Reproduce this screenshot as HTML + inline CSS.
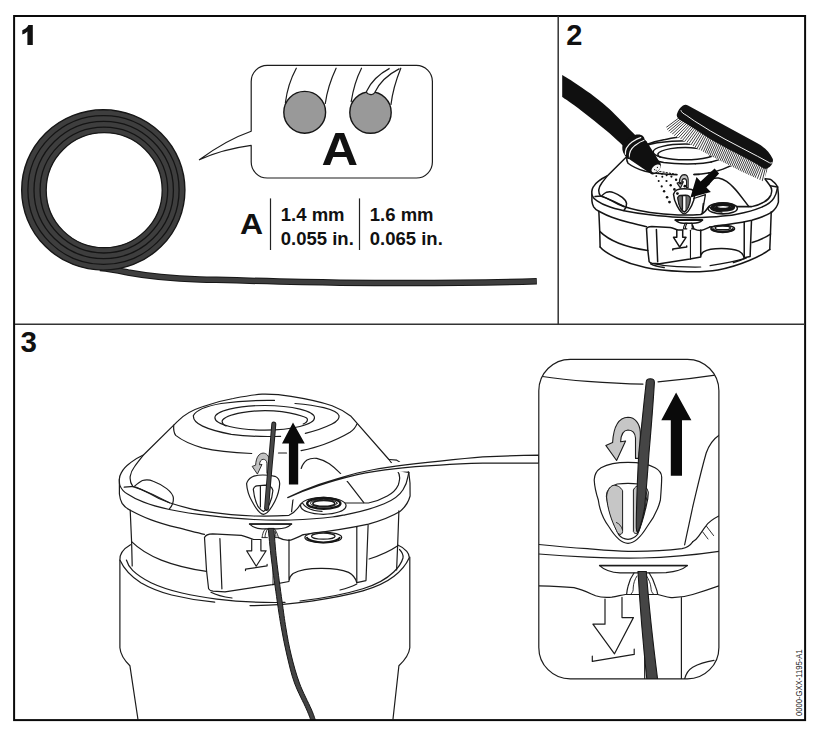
<!DOCTYPE html>
<html>
<head>
<meta charset="utf-8">
<title>Diagram</title>
<style>
html,body{margin:0;padding:0;background:#fff;}
body{width:828px;height:741px;overflow:hidden;font-family:"Liberation Sans",sans-serif;}
svg{display:block;position:absolute;left:0;top:0;}
text{font-family:"Liberation Sans",sans-serif;}
.b{font-weight:bold;fill:#111;}
.l{fill:none;stroke:#1c1c1c;stroke-width:1.2;stroke-linecap:round;stroke-linejoin:round;}
.l2{fill:none;stroke:#151515;stroke-width:1.5;stroke-linecap:round;stroke-linejoin:round;}
.w{fill:#fff;stroke:#1c1c1c;stroke-width:1.2;stroke-linejoin:round;}
.w2{fill:#fff;stroke:#151515;stroke-width:1.5;stroke-linejoin:round;}
.k{fill:#111;stroke:none;}
.s2 .l,.s2 .w{stroke-width:2.34;stroke:#151515;}
</style>
</head>
<body>
<svg width="828" height="741" viewBox="0 0 828 741">
<rect x="0" y="0" width="828" height="741" fill="#fff"/>

<!-- ===== PANEL 1 ===== -->
<g id="p1">
  <!-- tail -->
  <path d="M100,267.9 C112,268.9 120,270.8 128,272.5 C150,276.6 175,278.6 200,279.4 C240,280.5 290,282 340,282.7 C400,283.4 470,283.3 536.8,281.3" fill="none" stroke="#161616" stroke-width="6.5" stroke-linecap="butt"/>
  <path d="M100,267.9 C112,268.9 120,270.8 128,272.5 C150,276.6 175,278.6 200,279.4 C240,280.5 290,282 340,282.7 C400,283.4 470,283.3 536.2,281.3" fill="none" stroke="#3e3e3e" stroke-width="4.5" stroke-linecap="butt"/>
  <!-- coil -->
  <ellipse cx="103.3" cy="189.9" rx="81.6" ry="80.2" fill="#3e3e3e" stroke="#161616" stroke-width="1.4"/>
  <ellipse cx="103.5" cy="190" rx="75.6" ry="74.4" fill="none" stroke="#141414" stroke-width="1.3"/>
  <ellipse cx="103.7" cy="190.05" rx="69.7" ry="68.6" fill="none" stroke="#141414" stroke-width="1.3"/>
  <ellipse cx="103.9" cy="190.1" rx="63.8" ry="62.9" fill="none" stroke="#141414" stroke-width="1.3"/>
  <ellipse cx="104.2" cy="190.2" rx="58" ry="57.5" fill="#fff" stroke="#161616" stroke-width="1.3"/>

  <!-- bubble -->
  <path d="M267.2,65.4 H416.4 A16,16 0 0 1 432.4,81.4 V162 A16,16 0 0 1 416.4,178 H267.2 A16,16 0 0 1 251.2,162 V145.4 C232,148 214,153 199.4,159.8 C214,149 232,138 251.2,131.3 V81.4 A16,16 0 0 1 267.2,65.4 Z" class="w" style="stroke-width:1.2"/>
  <!-- strands in bubble -->
  <path d="M285.4,102.6 C287,90 291,78 296.3,68.2" class="l"/>
  <path d="M325.3,103.5 C327,91 331,79 336.1,68.2" class="l"/>
  <path d="M351.2,101.7 C353,90 356.5,78 361.5,68.2" class="l"/>
  <path d="M391,104.4 C392.5,92 396,80 400.8,68.2" class="l"/>
  <circle cx="304.7" cy="112.3" r="20.9" fill="#999" stroke="#161616" stroke-width="1.4"/>
  <circle cx="370.5" cy="112.5" r="20.7" fill="#999" stroke="#161616" stroke-width="1.4"/>
  <path d="M389.6,68.4 C379,74 371,82 366.6,91.2 C366,94.5 373,96 374.6,92.8 C379,83 388,74.5 399.5,68.6" class="w"/>
  <text transform="translate(339.9,165) scale(1.09,1)" x="0" y="0" text-anchor="middle" class="b" font-size="46.5">A</text>

  <!-- table -->
  <text transform="translate(251.5,233.9) scale(1.08,1)" x="0" y="0" text-anchor="middle" class="b" font-size="29.6">A</text>
  <line x1="270.5" y1="198.4" x2="270.5" y2="250" stroke="#222" stroke-width="1.2"/>
  <line x1="359.5" y1="198.4" x2="359.5" y2="250" stroke="#222" stroke-width="1.2"/>
  <text x="280.8" y="220.8" class="b" font-size="18.5">1.4 mm</text>
  <text x="280.8" y="244.9" class="b" font-size="18.5">0.055 in.</text>
  <text x="369.8" y="220.8" class="b" font-size="18.5">1.6 mm</text>
  <text x="369.8" y="244.9" class="b" font-size="18.5">0.065 in.</text>
</g>

<!-- ===== PANEL 2 ===== -->
<g id="p2">
  <!--HEAD2-START-->
  <!-- body bottom (p2 only) -->
  <path d="M600.1,247 C606,254 625,263 645.4,267.6 C665,271.8 700,273 717.9,269.9 C740,265.8 762,255.6 769.8,249.4" class="l2"/>
  <path d="M653.6,263.6 C662,265.6 670,266.4 677.1,266.6 C686,267 694,267.2 700.7,267 M710.1,265.6 C722,263.8 735,261.4 746.2,258.2" class="l2" style="stroke-width:1.2"/>
  <g transform="translate(515.3,-116.1) scale(0.6416)" class="s2">
  <path d="M130.2,510.2 L131.6,541.6 L132.2,566" class="l"/>
  <path d="M398.9,510.8 L397.8,541.6 L396.6,570" class="l"/>
  <path d="M131.6,541.6 C140,550 150,555.5 161.3,560.1 C175,565.5 190,569 206.5,571.4" class="l"/>
  <path d="M369.1,559 C380,555.5 390,551 397.8,545.7" class="l"/>
  <path d="M119.4,479.1 V494 C119.8,498 120.8,501 122.1,503.4 C124,506.5 127,508.6 130.2,510.2 C137,513.8 143,516.8 150.5,519.6 C159,522.8 168,525.4 177.5,527.7 C187,530 196,532.4 204.5,534.4" class="l"/>
  <path d="M408.8,472.3 L410,483 L410.1,496 C408.4,502.5 404.6,507.6 399.9,511.6 C391,517 380,521 368.5,524.2 C345,529.2 322,532.4 303.4,534.6" class="l"/>
  <path d="M204.5,537.5 C205.5,535 208.5,533.9 212.7,533.8 L241.4,535.4 C246,536.5 250,538.4 253.7,539.5 L260.9,539.5" class="l"/>
  <path d="M204.5,537.5 L206.5,570.3 L208.6,588.8 C209.4,590.4 211,591 213,591.2 L225,591.9 L272.2,584.7 L289,581.5" class="l"/>
  <path d="M219.9,538.5 L221.9,588.8" class="l"/>
  <path d="M211,592.2 C215,594.4 222,596.6 232,598" class="l"/>
  <path d="M251.7,539.8 V550.8 H246.6 L256.2,566.2 L266.1,550.8 H260.9 V539.8" class="l"/>
  <path d="M245.5,570.6 V569.2 L267.1,565.8 V564.4" class="l"/>
  <path d="M278.4,537.6 C281,539 285,540.4 289.3,540.3 C294,539.4 298.6,536.8 303.4,534.6" class="l"/>
  <path d="M289,539.5 V580.6 C289.5,577.5 291,575 293.1,573.4 C300,569.5 310,568.2 321.9,568.3 C332,568.3 342,569.6 348.6,572.4 C352.5,574.5 355.5,578 356.8,582.7 L366,580.6 L368.1,525.2" class="l"/>
  <path d="M356.8,527.2 V582.7" class="l"/>
  <path d="M273,540 V585" class="l" style="stroke-width:1.75"/>
  <path d="M356.8,584 C352,586.5 346,588.5 340,590" class="l"/>
  <ellipse cx="323.3" cy="537.4" rx="18.4" ry="5.3" class="w"/>
  <path d="M306.6,537.2 C308,540.6 316,542.4 323.3,542.4 C331,542.4 338.6,540.6 340,537.2" fill="none" stroke="#151515" stroke-width="3.90"/>
  <ellipse cx="323.3" cy="536.2" rx="11.8" ry="3" class="l"/>
  <path d="M143.7,454.8 C138,457.5 133.5,460.2 130.2,462.9 C126,466 123,469.2 121.5,472.4 C120,475 119.4,477 119.4,479.1 C119.2,482 119.4,484 120.1,485.9 C121.5,489.5 124,492 127.5,494 C132,497 137,499.8 143.7,502.1 C151,505 160,507.4 169.4,509.5 C182,512.2 196,514.2 210,515.6 C226,517.4 240,518.8 253.7,519.5 C266,520.2 278,520.4 291,520 C306,519.4 319,518.6 332.1,517 C338,516.4 342,515.4 345,514.8 C360,512 373,508.4 384.2,503.8 C393,500 399.5,495.5 403,489.7 C405.6,485.6 407.2,481.4 407.8,477.1 C408.2,475 408.6,473.6 408.8,472.3 C407,468.6 404.8,466 402.5,464.5 C400.6,462.6 398.6,461 396.8,460.2 L389.5,459.5 Z" class="w"/>
  <path d="M249.6,524.1 H291.5 C288,527.6 283,528.8 277,528.8 H262 C256.5,528.6 252.5,527 249.6,524.1 Z" class="w" style="stroke-width:2.34"/>
  <path d="M249.6,524 H291.5" class="l" style="stroke-width:3.12"/>
  <path d="M265.9,528.6 C264.4,530 263.4,531.6 263,533.2 C262.5,534.8 262.2,536.2 262.1,537.6 M274.2,528.6 C275.2,529.6 275.8,530.6 276.3,531.8 C277.4,533.8 278,535.6 278.4,537.6 M262.1,537.6 H267.4 M274.6,537.6 H278.4 M267.6,528.8 C266,531.4 265,534.6 265,537.4 M275.2,531.4 C275.8,533.4 276,535.4 275.9,537.4" class="l" style="stroke-width:1.75"/>
  <path d="M132.9,486.6 C130.6,483.4 129.8,480 130.2,476.4 C130.8,472.8 132.2,469.8 134.3,467 C137,463.2 140.2,459.2 143.7,454.8 L177.8,421.1 C184,414.6 192,410 202.4,406.7 C212,403.2 222,400.4 233.2,398.5 C243,396.6 252,394.8 262.1,394.2 C272,394 282,394.8 291,396.4 C305,398.6 319,401.4 332.1,405.7 C339,408.4 345,411.6 350.6,415.9 L388.9,459.5 L397.2,470.4 C399,473 399.9,476 399.6,479 C399.2,482 398.8,483.6 398.3,485 C396,490 392,493.5 387.3,496 C381,499.5 375,501.8 368.5,503 L346,503 L300.6,504 C298,508.5 295,512.4 289,515.3 C278,516.1 266,516.3 253.7,516 C238,515.4 224,514.2 210,512.2 C203,511.2 197,510.2 191,508.8 C183,507 176,505 169.4,502.8 C162,500.2 156,497.4 150.5,494 C144,490.6 138,488 132.9,486.6 Z" class="w"/>
  <path d="M397.2,470.4 L408.6,472.3" class="l"/>
  <path d="M124.2,487.2 L134.3,486.4 C137,484 139.6,481.8 142.4,480.5 C146,479.4 150,479.8 153.2,481.2 C158.5,483.2 163,485.6 166.7,488.6 C170.5,491.6 173,494.6 173.4,498 C173.6,502 172,506 169.4,508.8" class="l"/>
  <path d="M135.6,487 C147,491.6 158,496.6 169.4,502.8" class="l"/>
  <path d="M173.7,425.2 C173.4,429.6 174,433 175.7,435.4 C182,440.4 191,444.6 202.4,447.8 C215,450.8 232,452.6 251.7,453.5" class="l"/>
  <path d="M278.5,453 H286.5" class="l"/>
  <path d="M301.1,450.7 C309,449 317,447 323.7,444.5 C334,440.6 343,436.4 350,432.2 C354,429.4 356,426.6 356.8,424.1" class="l"/>
  <path d="M301.2,468.5 C302.4,464.6 304.4,461.8 307,460 C310,458.4 313.4,458 316.7,458.4 C321.4,459.4 325.6,461.4 329.3,463.8 C333,466.4 336.4,469.4 339.6,472.6 C343,476 346,479.6 348.9,483.4 L363.8,502.6" class="l"/>
  <path d="M274.5,400.4 C252,400 236,401.4 221.1,403.5 C207,406 196,410 193.3,415.8 C193.3,420 196.5,423.4 202.6,426.1 C210,429.6 220,432.2 231.3,434.3 C246,436.4 262,436.8 280.6,436.3" class="l"/>
  <path d="M295,403.5 C305,404.4 315,405.6 323.7,407.6 C333,410 338.5,412.6 339.1,415.8 C339.4,419.2 337,421.6 332,424 C324,428 315,431 305.3,433.3" class="l"/>
  <ellipse cx="264.7" cy="417.8" rx="49.8" ry="12.3" class="l"/>
  <path d="M226,426 C223,424.6 222.1,422.6 222.1,420.9 C223.6,417.6 231,414.6 242,412.6 C250,411.2 258,410.7 265,410.7 C276,410.8 288,412.2 296,414.4 C303,416.2 307,417.6 307.3,418.9 C307.8,421 306,422.8 303.2,424" class="l"/>
  <path d="M293.1,498.2 L291.6,511.6" class="l"/>
  <ellipse cx="323.3" cy="505.8" rx="22.8" ry="8.5" class="w"/>
  <path d="M302.6,503.2 C306,508.6 314,511 322,511.4" class="l"/>
  <ellipse cx="323.8" cy="503.4" rx="16.6" ry="5.4" fill="#fff" stroke="#151515" stroke-width="4.68"/>
  <ellipse cx="323.8" cy="503.2" rx="13.4" ry="3.9" class="l" style="stroke-width:1.95"/>
  <ellipse cx="323.8" cy="503.4" rx="11" ry="3" class="l" style="stroke-width:3.12"/>
  <path d="M246.6,483.7 C247.4,480.6 249.4,478.4 252,477 C255,475.6 259,475 262.8,475 C267,475 271.5,475.4 274.9,476.3 C278,477.6 279.6,480.4 279.7,483.7 C279.4,490 277.5,496 274.9,501.3 C272,507 268,514 263.5,514.3 C259,514 255,507 252,501.3 C249,496 247,490 246.6,483.7 Z" class="w"/>
  <path d="M253.3,489.1 C253.8,487.4 255,486.2 256.7,485.8 L265.5,485.1 C269,485.2 272,487 272.9,490.5 C272.5,495.4 271.3,500 269.5,504 C268,507.2 266,510 263.5,511.4 C261.4,510.4 259.6,508.8 258.1,506.7 C255.6,502 254,496 253.3,489.1 Z" class="l"/>
  <path d="M260.4,486.4 V507" class="l"/>
  <path d="M269.4,473.4 V460.2 C269,455.9 266.6,453.2 263.2,453.1 C259.1,453.3 256.1,457 255.6,465.2 L252.2,466.4 L257.4,474.1 L262,464.4 L259.5,464.8 C259.7,461.2 261.2,459.4 263.2,459.3 C265.3,459.4 266.7,460.7 266.9,463.2 V473.4 Z" fill="#c2c2c2" stroke="#1c1c1c" stroke-width="1.75" stroke-linejoin="round"/>

    <path d="M278.5,453 C286,452.6 294,451.8 301.1,450.7" class="l"/>
    <path d="M280.6,436.3 C289,435.8 297,434.8 305.3,433.3" class="l"/>
    <!-- grey eyelet halves (p2) -->
    <path d="M253.6,490 C254,487.6 255.4,486.4 257,486.2 L260.2,486.4 V507.6 C258.6,506.4 257.6,505 256.8,503.2 C255,499 254,495 253.6,490 Z" fill="#6e6e6e" stroke="#151515" stroke-width="1.2"/>
    <path d="M266,485.6 C269,485.6 271.8,487.4 272.6,490.6 C272.2,495.4 271,500 269.3,503.8 C268.3,506 267.2,508 266,509.4 Z" fill="#6e6e6e" stroke="#151515" stroke-width="1.2"/>

  </g>
  <!-- box right of eyelet (p2 only) -->
  <path d="M693.8,198.5 L705.4,194.6 L702.2,213.6" class="l2" style="stroke-width:1.3"/>
  <!--HEAD2-END-->
  <!-- spray dots -->
  <g class="k">
    <rect x="659.3" y="171.1" width="2.2" height="1" transform="rotate(10 660.4 171.6)"/><rect x="662.5" y="171.6" width="2.2" height="1" transform="rotate(10 663.6 172.1)"/><rect x="665.7" y="172.2" width="2.2" height="1" transform="rotate(10 666.8 172.7)"/><rect x="668.9" y="172.7" width="2.2" height="1" transform="rotate(10 670.0 173.2)"/><rect x="672.1" y="173.3" width="2.2" height="1" transform="rotate(10 673.2 173.8)"/><rect x="675.3" y="173.8" width="2.2" height="1" transform="rotate(10 676.4 174.3)"/>
    <circle cx="662.0" cy="173.8" r="0.90"/><circle cx="666.6" cy="175.2" r="1.00"/><circle cx="671.4" cy="176.6" r="1.10"/><circle cx="676.1" cy="179.8" r="1.20"/><circle cx="680.5" cy="183.2" r="1.30"/><circle cx="684.9" cy="186.2" r="1.40"/>
    <circle cx="658.4" cy="173.2" r="0.90"/><circle cx="662.3" cy="176.7" r="1.00"/><circle cx="666.5" cy="181.0" r="1.10"/><circle cx="670.7" cy="185.2" r="1.20"/><circle cx="674.4" cy="189.4" r="1.30"/><circle cx="677.4" cy="193.6" r="1.40"/>
    <circle cx="656.3" cy="176.1" r="0.90"/><circle cx="658.7" cy="181.0" r="1.00"/><circle cx="661.7" cy="186.4" r="1.10"/><circle cx="664.1" cy="191.2" r="1.20"/><circle cx="667.1" cy="197.3" r="1.30"/><circle cx="669.5" cy="202.1" r="1.40"/>
  </g>
  <!-- arrow -->
  <path d="M714.6,168.5 L719.1,173.6 L706.4,187.4 L710.9,191.9 L690.4,197.5 L696.5,177 L700.6,181.6 Z" fill="#0a0a0a"/>

  <!-- ===== brush ===== -->
  <g>
    <clipPath id="bc"><path d="M680,113 L665.1,123.5 L667.5,130.5 L674.4,135.8 L712,156.4 L742,171.8 L763.5,181.6 L768,168 L771,165 Z"/></clipPath>
    <path d="M680,113 L665.1,123.5 L667.5,130.5 L674.4,135.8 L712,156.4 L742,171.8 L763.5,181.6 L768,168 L771,165 Z" fill="#fff"/>
    <g clip-path="url(#bc)" stroke="#1c1c1c" stroke-width="0.85">
      <line x1="681.3" y1="116.1" x2="661.3" y2="131.1"/>
      <line x1="682.9" y1="117.0" x2="663.3" y2="132.6"/>
      <line x1="684.5" y1="118.0" x2="665.3" y2="134.1"/>
      <line x1="686.0" y1="118.9" x2="667.3" y2="135.5"/>
      <line x1="687.6" y1="119.9" x2="669.3" y2="136.9"/>
      <line x1="689.2" y1="120.8" x2="671.4" y2="138.4"/>
      <line x1="690.8" y1="121.8" x2="673.4" y2="139.8"/>
      <line x1="692.3" y1="122.7" x2="675.4" y2="141.2"/>
      <line x1="693.9" y1="123.7" x2="677.5" y2="142.6"/>
      <line x1="695.5" y1="124.6" x2="679.6" y2="143.9"/>
      <line x1="697.0" y1="125.6" x2="681.6" y2="145.3"/>
      <line x1="698.6" y1="126.6" x2="683.7" y2="146.7"/>
      <line x1="700.1" y1="127.6" x2="685.8" y2="148.1"/>
      <line x1="701.7" y1="128.6" x2="687.9" y2="149.5"/>
      <line x1="703.3" y1="129.6" x2="690.0" y2="150.8"/>
      <line x1="704.8" y1="130.6" x2="692.2" y2="152.2"/>
      <line x1="706.4" y1="131.6" x2="694.3" y2="153.5"/>
      <line x1="707.9" y1="132.6" x2="696.4" y2="154.8"/>
      <line x1="709.5" y1="133.6" x2="698.5" y2="156.1"/>
      <line x1="711.0" y1="134.6" x2="700.7" y2="157.4"/>
      <line x1="712.7" y1="135.6" x2="702.5" y2="158.5"/>
      <line x1="714.3" y1="136.6" x2="704.1" y2="159.4"/>
      <line x1="715.9" y1="137.5" x2="705.8" y2="160.3"/>
      <line x1="717.6" y1="138.4" x2="707.4" y2="161.2"/>
      <line x1="719.2" y1="139.3" x2="709.1" y2="162.1"/>
      <line x1="720.9" y1="140.2" x2="710.7" y2="163.1"/>
      <line x1="722.5" y1="141.1" x2="712.4" y2="164.0"/>
      <line x1="724.2" y1="142.1" x2="714.0" y2="164.9"/>
      <line x1="725.8" y1="143.0" x2="715.7" y2="165.8"/>
      <line x1="727.5" y1="143.9" x2="717.3" y2="166.7"/>
      <line x1="729.1" y1="144.8" x2="718.9" y2="167.6"/>
      <line x1="730.8" y1="145.7" x2="720.6" y2="168.5"/>
      <line x1="732.4" y1="146.5" x2="722.2" y2="169.4"/>
      <line x1="734.1" y1="147.4" x2="723.9" y2="170.2"/>
      <line x1="735.7" y1="148.2" x2="725.5" y2="171.1"/>
      <line x1="737.3" y1="149.1" x2="727.2" y2="171.9"/>
      <line x1="739.0" y1="149.9" x2="728.8" y2="172.8"/>
      <line x1="740.6" y1="150.8" x2="730.5" y2="173.6"/>
      <line x1="742.3" y1="151.7" x2="732.1" y2="174.5"/>
      <line x1="743.9" y1="152.5" x2="733.8" y2="175.4"/>
      <line x1="745.6" y1="153.4" x2="735.4" y2="176.2"/>
      <line x1="747.2" y1="154.3" x2="737.1" y2="177.1"/>
      <line x1="748.9" y1="155.2" x2="738.7" y2="178.0"/>
      <line x1="750.5" y1="156.0" x2="740.3" y2="178.9"/>
      <line x1="752.2" y1="156.9" x2="742.0" y2="179.7"/>
      <line x1="753.8" y1="157.8" x2="743.6" y2="180.6"/>
      <line x1="755.5" y1="158.7" x2="745.3" y2="181.5"/>
      <line x1="757.1" y1="159.5" x2="746.9" y2="182.4"/>
      <line x1="758.7" y1="160.4" x2="748.6" y2="183.2"/>
      <line x1="760.4" y1="161.2" x2="750.2" y2="184.0"/>
      <line x1="762.0" y1="162.0" x2="751.9" y2="184.8"/>
      <line x1="763.5" y1="162.7" x2="754.5" y2="186.0"/>
      <line x1="764.9" y1="163.4" x2="757.4" y2="187.3"/>
      <line x1="766.3" y1="164.1" x2="760.4" y2="188.4"/>
      <line x1="767.7" y1="164.9" x2="763.4" y2="189.5"/>
    </g>
    <path d="M688,105.4 L757.4,143.2 C764,147 769.6,151.6 772.8,159 C773.6,162.4 771.6,166.4 767.1,168.5 C765.4,169.2 763.8,168.6 762,167.4 L757.4,164.4 L741.2,155.8 L727,148.4 L710.5,139.2 L694.3,128.8 L681,120.4 C678,118.6 676.2,116.4 676.9,114.2 C677.8,111 680,107.6 683,105.6 C684.6,104.6 686.4,104.6 688,105.4 Z" fill="#121212"/>
    <path d="M680.9,110.2 C681.4,112.4 683.4,113.6 686.2,115.2 L694.3,120.9 L710.5,131 L725,139.2 L741.2,147.7 L757.4,156.2 L769.6,162.8 C771,163.4 772,163 772.6,162" fill="none" stroke="#f2f2f2" stroke-width="1"/>
  </g>

  <!-- ===== hose + nozzle ===== -->
  <path d="M562.2,75.1 C564.2,76.3 569.5,79.3 574.2,82.4 C578.9,85.5 585.0,89.6 590.4,93.6 C595.8,97.6 601.9,102.6 606.5,106.6 C611.1,110.6 614.2,113.8 618.0,117.6 C621.8,121.4 626.3,126.1 629.4,129.2 C632.5,132.3 635.4,135.2 636.6,136.4 L625.0,147.4 C623.8,146.3 621.1,143.7 618.0,140.9 C614.9,138.1 611.1,134.7 606.5,130.8 C601.9,127.0 595.8,122.0 590.4,117.8 C585.0,113.5 578.9,108.8 574.2,105.3 C569.5,101.8 564.2,98.4 562.2,97.0 Z" fill="#101010"/>
  <!-- collar -->
  <path d="M622.3,147 C622.6,142 629,136.4 636.6,134.6 C641.4,133.8 644.4,136.2 644.6,139.4 C646,140.2 647,142 646.6,144 C645,149.4 639,154.4 632,158.2 C629.6,159.4 627.6,159.4 626.4,157.4 C623.6,154.4 622,150.6 622.3,147 Z" fill="#101010"/>
  <path d="M625.4,154.7 C624.8,149.8 627.4,145.4 632,142 C635,139.8 638.4,138 641.2,137.3" fill="none" stroke="#f6f6f6" stroke-width="1.2"/>
  <path d="M629.5,157.6 C628.8,152.6 631,148.6 635,145.4 C638,143.2 641.4,141.2 644.3,140.3" fill="none" stroke="#f6f6f6" stroke-width="1.2"/>
  <!-- cone -->
  <path d="M629.4,159.3 C629,154.4 634,148.4 640.6,144.4 C643.4,142.6 645.6,141 646.3,141 L660.6,163.6 C661.6,166.6 659.6,170.6 656.6,173 C654,174.8 651.6,174.8 650.4,173.4 Z" fill="#101010"/>
  <ellipse cx="656" cy="168.5" rx="5.2" ry="3.1" transform="rotate(-39 656 168.5)" fill="#f6f6f6"/>
  <circle cx="654.6" cy="169.6" r="0.6" class="k"/><circle cx="657.4" cy="167.4" r="0.6" class="k"/><circle cx="656.2" cy="170.2" r="0.5" class="k"/>
</g>

<!-- ===== PANEL 3 ===== -->
<g id="p3">
  <!-- ===== lower housing (guard cup) ===== -->
  <path d="M119.9,560 V647.8 C120.5,655 125,661 129.9,665.7 L137.9,719" class="l"/>
  <path d="M409.8,557 V647.8 C409,655 404,661 398.9,665.7 L393,719" class="l"/>
  <!-- housing rim outer -->
  <path d="M130.5,544.7 C123,549 119.5,554 119.9,560 C124,569 131,576.5 140.8,582.7 C150,588 160,592 171.6,595 C186,598.5 200,600.8 214.7,602.2" class="l"/>
  <path d="M126.4,560 C127.5,564 129.5,567.2 132.6,570.3 C138,575.5 144,579.2 151,582.7 C160,587 170,590.2 181.9,593 C193,595.6 205,597.6 216.8,599.1 C240,602 262,602.8 285,602.4" class="l"/>
  <path d="M250,605.6 C272,605.6 292,604 311.6,601.1 C331,598.2 348,595 362.9,590.9 C376,587 386,582.5 393.7,576.5 C401,571 406,565 409.1,558 C409.8,554 406,548.5 397.8,545" class="l"/>
  <path d="M300,601 C318,599 341,595.5 362.9,588.8 C375,585 386,579.5 393.7,572 C398.5,567.5 401.5,563 403,558 C403.5,555 402,552 399.5,549.5" class="l"/>
  <!--HEAD-START-->
  <!-- ===== body ===== -->
  <path d="M130.2,510.2 L131.6,541.6 L132.2,566" class="l"/>
  <path d="M398.9,510.8 L397.8,541.6 L396.6,570" class="l"/>
  <!-- lower band -->
  <path d="M131.6,541.6 C140,550 150,555.5 161.3,560.1 C175,565.5 190,569 206.5,571.4" class="l"/>
  <path d="M369.1,559 C380,555.5 390,551 397.8,545.7" class="l"/>
  <!-- L5 ridge -->
  <path d="M119.4,479.1 V494 C119.8,498 120.8,501 122.1,503.4 C124,506.5 127,508.6 130.2,510.2 C137,513.8 143,516.8 150.5,519.6 C159,522.8 168,525.4 177.5,527.7 C187,530 196,532.4 204.5,534.4" class="l"/>
  <path d="M408.8,472.3 L410,483 L410.1,496 C408.4,502.5 404.6,507.6 399.9,511.6 C391,517 380,521 368.5,524.2 C345,529.2 322,532.4 303.4,534.6" class="l"/>
  <!-- window -->
  <path d="M204.5,537.5 C205.5,535 208.5,533.9 212.7,533.8 L241.4,535.4 C246,536.5 250,538.4 253.7,539.5 L260.9,539.5" class="l"/>
  <path d="M204.5,537.5 L206.5,570.3 L208.6,588.8 C209.4,590.4 211,591 213,591.2 L225,591.9 L272.2,584.7 L289,581.5" class="l"/>
  <path d="M219.9,538.5 L221.9,588.8" class="l"/>
  <path d="M211,592.2 C215,594.4 222,596.6 232,598" class="l"/>
  <!-- down arrow outline -->
  <path d="M251.7,539.8 V550.8 H246.6 L256.2,566.2 L266.1,550.8 H260.9 V539.8" class="l"/>
  <path d="M245.5,570.6 V569.2 L267.1,565.8 V564.4" class="l"/>
  <!-- notch right -->
  <path d="M278.4,537.6 C281,539 285,540.4 289.3,540.3 C294,539.4 298.6,536.8 303.4,534.6" class="l"/>
  <path d="M289,539.5 V580.6 C289.5,577.5 291,575 293.1,573.4 C300,569.5 310,568.2 321.9,568.3 C332,568.3 342,569.6 348.6,572.4 C352.5,574.5 355.5,578 356.8,582.7 L366,580.6 L368.1,525.2" class="l"/>
  <path d="M356.8,527.2 V582.7" class="l"/>
  <path d="M273,540 V585" class="l" style="stroke-width:0.9"/>
  <path d="M356.8,584 C352,586.5 346,588.5 340,590" class="l"/>
  <!-- lower bolt -->
  <ellipse cx="323.3" cy="537.4" rx="18.4" ry="5.3" class="w"/>
  <path d="M306.6,537.2 C308,540.6 316,542.4 323.3,542.4 C331,542.4 338.6,540.6 340,537.2" fill="none" stroke="#151515" stroke-width="2"/>
  <ellipse cx="323.3" cy="536.2" rx="11.8" ry="3" class="l"/>

  <!-- ===== flange + dome ===== -->
  <path d="M143.7,454.8 C138,457.5 133.5,460.2 130.2,462.9 C126,466 123,469.2 121.5,472.4 C120,475 119.4,477 119.4,479.1 C119.2,482 119.4,484 120.1,485.9 C121.5,489.5 124,492 127.5,494 C132,497 137,499.8 143.7,502.1 C151,505 160,507.4 169.4,509.5 C182,512.2 196,514.2 210,515.6 C226,517.4 240,518.8 253.7,519.5 C266,520.2 278,520.4 291,520 C306,519.4 319,518.6 332.1,517 C338,516.4 342,515.4 345,514.8 C360,512 373,508.4 384.2,503.8 C393,500 399.5,495.5 403,489.7 C405.6,485.6 407.2,481.4 407.8,477.1 C408.2,475 408.6,473.6 408.8,472.3 C407,468.6 404.8,466 402.5,464.5 C400.6,462.6 398.6,461 396.8,460.2 L389.5,459.5 Z" class="w"/>
  <!-- slot under flange -->
  <path d="M249.6,524.1 H291.5 C288,527.6 283,528.8 277,528.8 H262 C256.5,528.6 252.5,527 249.6,524.1 Z" class="w" style="stroke-width:1.2"/>
  <path d="M249.6,524 H291.5" class="l" style="stroke-width:1.6"/>
  <path d="M265.9,528.6 C264.4,530 263.4,531.6 263,533.2 C262.5,534.8 262.2,536.2 262.1,537.6 M274.2,528.6 C275.2,529.6 275.8,530.6 276.3,531.8 C277.4,533.8 278,535.6 278.4,537.6 M262.1,537.6 H267.4 M274.6,537.6 H278.4 M267.6,528.8 C266,531.4 265,534.6 265,537.4 M275.2,531.4 C275.8,533.4 276,535.4 275.9,537.4" class="l" style="stroke-width:0.9"/>
  <!-- dome -->
  <path d="M132.9,486.6 C130.6,483.4 129.8,480 130.2,476.4 C130.8,472.8 132.2,469.8 134.3,467 C137,463.2 140.2,459.2 143.7,454.8 L177.8,421.1 C184,414.6 192,410 202.4,406.7 C212,403.2 222,400.4 233.2,398.5 C243,396.6 252,394.8 262.1,394.2 C272,394 282,394.8 291,396.4 C305,398.6 319,401.4 332.1,405.7 C339,408.4 345,411.6 350.6,415.9 L388.9,459.5 L397.2,470.4 C399,473 399.9,476 399.6,479 C399.2,482 398.8,483.6 398.3,485 C396,490 392,493.5 387.3,496 C381,499.5 375,501.8 368.5,503 L346,503 L300.6,504 C298,508.5 295,512.4 289,515.3 C278,516.1 266,516.3 253.7,516 C238,515.4 224,514.2 210,512.2 C203,511.2 197,510.2 191,508.8 C183,507 176,505 169.4,502.8 C162,500.2 156,497.4 150.5,494 C144,490.6 138,488 132.9,486.6 Z" class="w"/>
  <!-- right silhouette double line -->
  <path d="M397.2,470.4 L408.6,472.3" class="l"/>
  <!-- bump left -->
  <path d="M124.2,487.2 L134.3,486.4 C137,484 139.6,481.8 142.4,480.5 C146,479.4 150,479.8 153.2,481.2 C158.5,483.2 163,485.6 166.7,488.6 C170.5,491.6 173,494.6 173.4,498 C173.6,502 172,506 169.4,508.8" class="l"/>
  <path d="M135.6,487 C147,491.6 158,496.6 169.4,502.8" class="l"/>
  <!-- shoulder line -->
  <path d="M173.7,425.2 C173.4,429.6 174,433 175.7,435.4 C182,440.4 191,444.6 202.4,447.8 C215,450.8 232,452.6 251.7,453.5" class="l"/>
  <path d="M278.5,453 H286.5" class="l"/>
  <path d="M301.1,450.7 C309,449 317,447 323.7,444.5 C334,440.6 343,436.4 350,432.2 C354,429.4 356,426.6 356.8,424.1" class="l"/>
  <!-- right bump on dome -->
  <path d="M301.2,468.5 C302.4,464.6 304.4,461.8 307,460 C310,458.4 313.4,458 316.7,458.4 C321.4,459.4 325.6,461.4 329.3,463.8 C333,466.4 336.4,469.4 339.6,472.6 C343,476 346,479.6 348.9,483.4 L363.8,502.6" class="l"/>
  <!-- ring A -->
  <path d="M274.5,400.4 C252,400 236,401.4 221.1,403.5 C207,406 196,410 193.3,415.8 C193.3,420 196.5,423.4 202.6,426.1 C210,429.6 220,432.2 231.3,434.3 C246,436.4 262,436.8 280.6,436.3" class="l"/>
  <path d="M295,403.5 C305,404.4 315,405.6 323.7,407.6 C333,410 338.5,412.6 339.1,415.8 C339.4,419.2 337,421.6 332,424 C324,428 315,431 305.3,433.3" class="l"/>
  <!-- ring B -->
  <ellipse cx="264.7" cy="417.8" rx="49.8" ry="12.3" class="l"/>
  <!-- ring C (far wall of hole) -->
  <path d="M226,426 C223,424.6 222.1,422.6 222.1,420.9 C223.6,417.6 231,414.6 242,412.6 C250,411.2 258,410.7 265,410.7 C276,410.8 288,412.2 296,414.4 C303,416.2 307,417.6 307.3,418.9 C307.8,421 306,422.8 303.2,424" class="l"/>
  <!-- bolt ring -->
  <path d="M293.1,498.2 L291.6,511.6" class="l"/>
  <ellipse cx="323.3" cy="505.8" rx="22.8" ry="8.5" class="w"/>
  <path d="M302.6,503.2 C306,508.6 314,511 322,511.4" class="l"/>
  <ellipse cx="323.8" cy="503.4" rx="16.6" ry="5.4" fill="#fff" stroke="#151515" stroke-width="2.4"/>
  <ellipse cx="323.8" cy="503.2" rx="13.4" ry="3.9" class="l" style="stroke-width:1"/>
  <ellipse cx="323.8" cy="503.4" rx="11" ry="3" class="l" style="stroke-width:1.6"/>

  <!-- eyelet -->
  <path d="M246.6,483.7 C247.4,480.6 249.4,478.4 252,477 C255,475.6 259,475 262.8,475 C267,475 271.5,475.4 274.9,476.3 C278,477.6 279.6,480.4 279.7,483.7 C279.4,490 277.5,496 274.9,501.3 C272,507 268,514 263.5,514.3 C259,514 255,507 252,501.3 C249,496 247,490 246.6,483.7 Z" class="w"/>
  <path d="M253.3,489.1 C253.8,487.4 255,486.2 256.7,485.8 L265.5,485.1 C269,485.2 272,487 272.9,490.5 C272.5,495.4 271.3,500 269.5,504 C268,507.2 266,510 263.5,511.4 C261.4,510.4 259.6,508.8 258.1,506.7 C255.6,502 254,496 253.3,489.1 Z" class="l"/>
  <path d="M260.4,486.4 V507" class="l"/>
  <!-- curved small arrow -->
  <path d="M269.4,473.4 V460.2 C269,455.9 266.6,453.2 263.2,453.1 C259.1,453.3 256.1,457 255.6,465.2 L252.2,466.4 L257.4,474.1 L262,464.4 L259.5,464.8 C259.7,461.2 261.2,459.4 263.2,459.3 C265.3,459.4 266.7,460.7 266.9,463.2 V473.4 Z" fill="#c2c2c2" stroke="#1c1c1c" stroke-width="0.9" stroke-linejoin="round"/>
  <!--HEAD-END-->
  <!-- leader wedge -->
  <path d="M287.7,497.6 C297,493 307,488.6 318.6,484.6 C331,480.4 344,476.6 357.3,473 C370,470 383,467.8 395.9,466.2 C410,464.2 425,462.6 440,461.2 C454,459.6 468,458 482.9,456.9 C502,456 520,455.4 538.9,455.2 V463.2 C520,463 502,463.1 482.9,463.2 C468,463.6 454,464.2 440,465.2 C425,466 410,467 395.9,468.6 C383,470 370,471.8 357.3,474.6 C344,477.8 331,481.4 318.6,485.6 C307,489.4 297,493.4 287.7,497.6 Z" fill="#fff" stroke="#fff" stroke-width="7.5" stroke-linejoin="round"/>
  <path d="M287.7,497.6 C297,493 307,488.6 318.6,484.6 C331,480.4 344,476.6 357.3,473 C370,470 383,467.8 395.9,466.2 C410,464.2 425,462.6 440,461.2 C454,459.6 468,458 482.9,456.9 C502,456 520,455.4 538.9,455.2 V463.2 C520,463 502,463.1 482.9,463.2 C468,463.6 454,464.2 440,465.2 C425,466 410,467 395.9,468.6 C383,470 370,471.8 357.3,474.6 C344,477.8 331,481.4 318.6,485.6 C307,489.4 297,493.4 287.7,497.6 Z" class="w"/>

  <!-- rod upper part -->
  <path d="M273.8,424 C273,435 271.6,450 270.2,465 C269,478 267.6,495 266.6,508.4" fill="none" stroke="#161616" stroke-width="5" stroke-linecap="round"/>
  <path d="M273.8,424 C273,435 271.6,450 270.2,465 C269,478 267.6,495 266.6,508" fill="none" stroke="#484848" stroke-width="3.2" stroke-linecap="round"/>
  <!-- rod lower part -->
  <path d="M268.2,528.4 C268.8,533.7 270.0,547.9 271.5,560.0 C273.0,572.1 275.6,589.7 277.2,601.0 C278.8,612.3 279.8,619.0 281.4,628.0 C283.0,637.0 284.7,645.8 286.9,655.0 C289.1,664.2 291.2,674.0 294.5,683.0 C297.8,692.0 303.7,702.8 306.4,709.0 C309.1,715.2 310.1,718.2 310.8,720.0 L315.4,720.0 C314.7,718.2 313.9,715.2 311.2,709.0 C308.5,702.8 302.7,692.0 299.4,683.0 C296.1,674.0 293.4,664.2 291.2,655.0 C288.9,645.8 287.4,637.0 285.9,628.0 C284.4,619.0 283.6,612.3 282.0,601.0 C280.4,589.7 278.0,572.1 276.6,560.0 C275.2,547.9 274.3,533.7 273.9,528.4 Z" fill="#444" stroke="#161616" stroke-width="1" stroke-linejoin="round"/>
  <!-- up arrow -->
  <path d="M293,422.6 L304.8,443.5 H298.2 V484.4 H288.9 V443.5 H282 Z" fill="#0a0a0a"/>

  <!-- ===== zoom bubble ===== -->
  <g id="bubble">
    <clipPath id="bclip"><rect x="538.8" y="359.3" width="180.1" height="319.6" rx="31.5" ry="31.5"/></clipPath>
    <rect x="538.8" y="359.3" width="180.1" height="319.6" rx="31.5" ry="31.5" fill="#fff" stroke="none"/>
    <g clip-path="url(#bclip)">
      <!-- top curve -->
      <path d="M538.9,376 C555,378.4 570,380.2 587.5,381.4 C606,382.8 624,383.8 643,384.1" class="l"/>
      <path d="M658,381.8 C680,380 700,377.6 718.9,374.7" class="l"/>
      <!-- right curves -->
      <path d="M720,434.6 C713,439 709,445 706.2,453 C701,471 697,489 692.7,507 C690,520 687,533 684.6,545" class="l"/>
      <path d="M720,515.4 C714,518.4 709,521.6 706.2,525.6 C703.5,529 701,533 698.5,536.4 C697,538.6 695,540.4 692.7,541.8" class="l"/>
      <path d="M706.6,526.4 L713.6,535.6 M702.6,531.8 L708,539" class="l" style="stroke-width:0.9"/>
      <!-- flange lines -->
      <path d="M538.9,544.5 C555,546.2 570,547.6 587.5,548.6 C602,549.8 615,551 628,551.3 C648,551.6 666,550.6 682,548.6 C687,547.6 690.5,545 692.7,541.8" class="l"/>
      <path d="M538.9,554 C555,555.4 570,556.4 587.5,557.2 C606,558 624,558.2 641.5,558 C668,557.4 694,555 718.9,551.3" class="l"/>
      <!-- slot -->
      <path d="M599.6,565.6 H687.3 C683,569.4 676,571.6 666,572.6 L653,572.9 H620 C612,572.4 604,569.8 599.6,565.6 Z" class="w"/>
      <path d="M599.6,565.5 H687.3" class="l" style="stroke-width:1.4"/>
      <!-- eyelet exit -->
      <path d="M634,573 C631,577 629,581.6 628,586.4 C627.2,589.4 626.8,592 626.6,594.5 M649.2,573 C652,577 654,581.6 655.4,586.4 C656.6,589.4 657.4,592 657.7,594.5" class="l"/>
      <path d="M637,576 C634.6,579.6 633.4,583.6 633.2,588 C633.4,590.6 632.6,592.6 631,594 M646.6,576 C649,579.6 650.6,583.6 651,588 C651,590.6 651.8,592.6 653.4,594" class="l" style="stroke-width:0.9"/>
      <!-- ridge -->
      <path d="M538.9,585.8 C552,586 563,586.4 574,587.7 C582,589.4 589,593 595.6,595.8 C601,597.6 606,597.8 611.8,597.2 C617,596.4 621,595.2 625.3,594.5 H657.7 C662,595.4 666,597.2 671.1,597.7 C679,597.9 686,596.6 692.7,594.5 C702,591.6 711,588.6 718.9,585.8" class="l"/>
      <path d="M644.7,594.5 V679 M681.4,597.7 V679" class="l"/>
      <!-- outline arrow -->
      <path d="M605,599 V624.2 H592.9 L614.5,653.8 L633.4,617.6 H622 V597.4" class="l"/>
      <path d="M592.3,656.2 V661.4 L634.2,654.4 V649.2" class="l"/>
      <!-- bottom right curve -->
      <path d="M684.6,679 C686,673.6 688.6,669.8 692.7,667.3 C699,663.6 706,661.6 714,660.4" class="l"/>
      <!-- eyelet -->
      <path d="M594.2,480 C594.4,474.4 597,470.4 601,467.8 C608,464 618,462.4 628,462.4 C638,462.4 648,464 655,467.8 C659,470 661.6,473.2 661.7,477.2 C661.6,485 661,492.6 660.4,500 C658,510 653,519 646.9,527 C642,535 636,543.2 628,543.4 C620,543.2 614,535 609.1,527 C603,519 599.6,510 598.3,500 C596.2,493.6 594.6,487 594.2,480 Z" class="w"/>
      <path d="M606.4,496.2 C606.6,490.6 610,486 617.2,484 C624,483.2 632,483.2 638.8,484 C644,485.4 647.6,488.2 648.2,492.2 C648.4,497 647.4,501.6 646.2,506 C644,516 641,526 637.5,534.4 C635,537.6 632,539 628,539.3 C624,539 621,537.6 618.6,534.6 C613,523 608.5,510 606.4,496.2 Z" class="l"/>
      <path d="M606.6,497 C607,491 609.6,486.6 613.1,485.4 C617,485 620.6,486.8 622.6,490.8 V531.6 C622.4,534.2 620.4,535 618.8,534 C617.6,533.2 617,532 616.4,530.4 C611,519.6 607.6,508.6 606.6,497 Z" fill="#c6c6c6" stroke="#1c1c1c" stroke-width="1"/>
      <path d="M616.4,522.5 C619,523.5 621.4,526 622.4,529.6" class="l" style="stroke-width:0.9"/>
      <path d="M633.4,490 C634.6,487 637,485.4 640.1,485.4 C644,486 646.6,490 646.9,496.2 C645.6,508 642.6,520 638.8,531.2 C637.6,534.2 634.6,534.4 633.4,531.6 Z" fill="#c6c6c6" stroke="#1c1c1c" stroke-width="1"/>
      <!-- curved arrow -->
      <path d="M640.3,458.4 V432 C639.6,423 635,417.4 628,417.3 C619.6,417.6 613.6,425.4 612.6,442.6 L605.8,445.4 L616.6,460.5 L625.6,441 L620.6,441.8 C621,434 624,430.2 628,430 C632.4,430.2 635.2,433 635.5,438 V458.4 Z" fill="#c6c6c6" stroke="#1c1c1c" stroke-width="1.1" stroke-linejoin="round"/>
      <!-- rod upper -->
      <path d="M646.2,382.4 C646.2,377.6 654.4,377.6 654.4,382.4 C653,406 651,430 649,453 C647.8,471 646.2,490 644.7,507 C643.4,515 641.6,522 640,527 L637.6,532.8 C636.6,531.4 636.3,529.6 636.3,527.6 C636.2,520.6 636.4,514 636.6,507 C637,489 637.8,471 638.8,453 C641,430 643.6,406 646.2,382.4 Z" fill="#454545" stroke="#161616" stroke-width="1.1" stroke-linejoin="round"/>
      <!-- rod lower -->
      <path d="M638,571.5 C640,607 643,643 646.9,680 H657.7 C653,643 649,607 646.3,571.5 Z" fill="#454545" stroke="#161616" stroke-width="1.1"/>
      <!-- big arrow -->
      <path d="M676.1,392.4 L691.4,420.3 H682 V475.7 H670.8 V420.3 H661.3 Z" fill="#0a0a0a"/>
    </g>
    <rect x="538.8" y="359.3" width="180.1" height="319.6" rx="31.5" ry="31.5" fill="none" stroke="#1c1c1c" stroke-width="1.2"/>
  </g>
</g>

<!-- ===== FRAME ===== -->
<g id="frame">
  <rect x="14.1" y="16" width="791" height="704.1" fill="none" stroke="#0a0a0a" stroke-width="2"/>
  <line x1="15" y1="324.3" x2="805" y2="324.3" stroke="#333" stroke-width="1.5"/>
  <line x1="558.2" y1="16" x2="558.2" y2="324.3" stroke="#333" stroke-width="1.5"/>
  <path d="M32.8,45 H27.4 V31.5 C25.8,33 24,34 22.3,34.6 V30.2 C25,29.2 27.3,27.2 28.4,24.9 H32.8 Z" fill="#111"/>
  <text x="566.2" y="45.1" class="b" font-size="29">2</text>
  <text x="20.5" y="351.8" class="b" font-size="29.5">3</text>
  <text transform="translate(801.5,716) rotate(-90)" font-size="8.6" fill="#222" textLength="66.6" lengthAdjust="spacingAndGlyphs">0000-GXX-1195-A1</text>
</g>
</svg>
</body>
</html>
